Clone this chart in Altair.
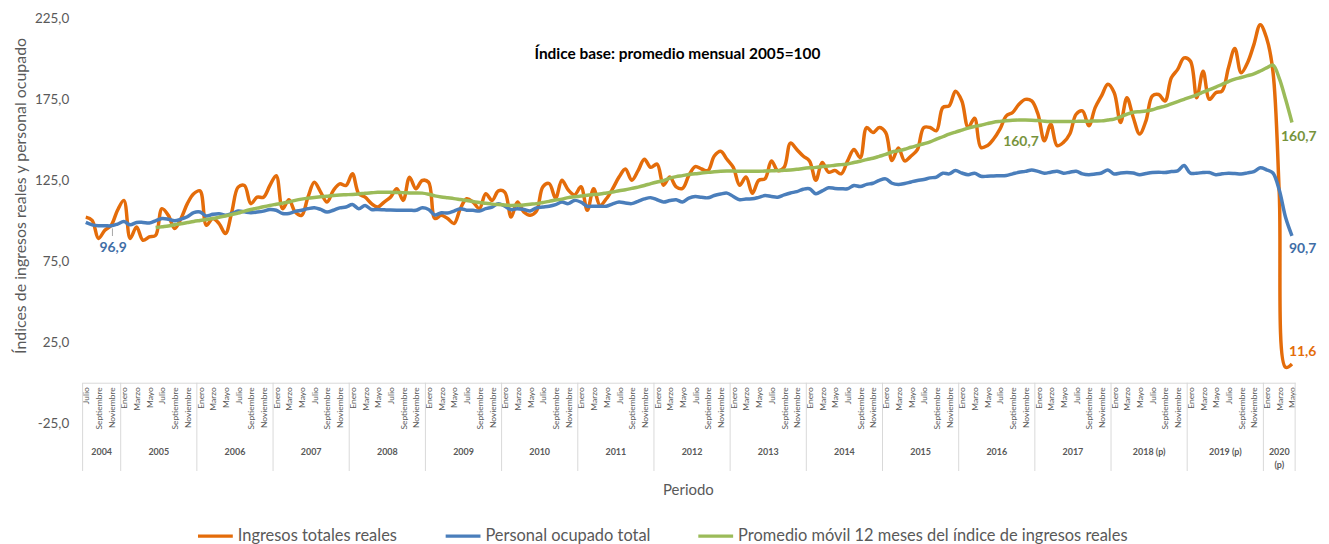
import altair as alt
import pandas as pd

MESES = ["Enero", "Febrero", "Marzo", "Abril", "Mayo", "Junio", "Julio",
         "Agosto", "Septiembre", "Octubre", "Noviembre", "Diciembre"]
ANIOS = ["2004", "2005", "2006", "2007", "2008", "2009", "2010", "2011", "2012",
         "2013", "2014", "2015", "2016", "2017", "2018 (p)", "2019 (p)", "2020\n(p)"]
SERIES = ["Ingresos totales reales", "Personal ocupado total",
          "Promedio móvil 12 meses del índice de ingresos reales"]
COLORES = ["#E46C0A", "#4A7EBB", "#9BBB59"]

# Ingresos totales reales, julio 2004 - mayo 2020
ingresos = [
    102.3, 100.3, 89.1, 94.2, 97.2, 106.5,                                      # 2004
    112.6, 89.1, 96.2, 88.0, 90.0, 91.0, 107.5, 103.4, 95.2, 101.4, 110.6, 116.7,  # 2005
    118.5, 97.2, 101.4, 98.3, 92.1, 105.4, 120.8, 121.8, 110.6, 114.6, 114.6, 121.8,  # 2006
    127.9, 107.5, 113.0, 105.4, 103.4, 114.6, 123.8, 117.7, 111.6, 118.7, 122.8, 121.8,  # 2007
    129.0, 116.7, 114.6, 110.6, 108.5, 111.6, 114.6, 119.8, 112.6, 126.9, 119.8, 124.9,  # 2008
    123.8, 101.4, 103.4, 101.4, 98.3, 107.5, 113.6, 111.6, 107.5, 116.7, 112.6, 118.5,  # 2009
    117.7, 102.3, 111.6, 105.4, 103.4, 106.0, 121.0, 123.0, 114.0, 125.0, 119.0, 116.0,  # 2010
    121.0, 106.5, 119.8, 109.5, 113.6, 119.8, 127.0, 132.0, 125.0, 131.0, 138.0, 133.0,  # 2011
    135.0, 122.0, 127.0, 121.0, 120.0, 128.0, 133.5, 132.0, 131.0, 140.0, 143.0, 138.0,  # 2012
    133.0, 122.0, 127.0, 117.0, 125.0, 126.0, 137.0, 131.0, 133.0, 148.0, 144.0, 140.0,  # 2013
    137.0, 125.0, 136.0, 130.0, 131.0, 129.0, 137.0, 144.0, 139.0, 157.6, 154.5, 157.6,  # 2014
    154.5, 137.2, 145.0, 137.0, 140.0, 144.0, 157.6, 157.6, 155.6, 170.0, 171.0, 180.0,  # 2015
    174.0, 157.6, 163.4, 145.3, 146.4, 150.5, 156.6, 164.8, 166.9, 172.0, 175.0, 174.0,  # 2016
    165.8, 149.4, 159.7, 146.4, 148.4, 153.6, 165.8, 167.9, 158.7, 169.9, 177.1, 184.3,  # 2017
    179.1, 160.7, 176.0, 163.8, 153.6, 161.7, 177.1, 178.0, 174.0, 188.3, 193.5, 200.6,  # 2018
    198.6, 176.0, 192.4, 175.0, 179.1, 180.2, 194.5, 206.4, 191.4, 197.6, 208.8, 221.1,  # 2019
    212.9, 192.4, 116.9, 9.5, 11.6,                                              # 2020
]

# Personal ocupado total
personal = [
    99.0, 97.5, 97.0, 97.0, 96.9, 98.0,
    99.5, 97.5, 99.0, 99.0, 98.6, 100.0, 101.4, 101.0, 100.0, 101.0, 102.5, 105.0,
    105.4, 103.0, 104.0, 104.4, 103.4, 104.5, 106.0, 105.5, 105.0, 105.4, 106.0, 107.0,
    106.5, 104.5, 104.5, 105.8, 106.5, 107.5, 108.1, 107.0, 105.4, 106.5, 108.0, 108.5,
    110.0, 107.5, 109.5, 107.0, 107.0, 106.8, 106.6, 106.5, 106.5, 106.5, 106.5, 108.0,
    107.0, 103.6, 105.0, 104.8, 106.0, 107.5, 106.5, 106.5, 106.0, 107.5, 108.5, 110.6,
    109.0, 106.9, 107.5, 107.0, 106.1, 108.0, 108.5, 109.0, 110.0, 111.6, 110.6, 112.6,
    111.5, 109.0, 109.0, 109.0, 109.0, 110.5, 111.6, 111.0, 110.6, 112.0, 113.5, 114.3,
    113.0, 111.6, 112.5, 113.0, 111.6, 114.0, 115.0, 114.5, 114.2, 115.6, 116.5, 117.1,
    115.0, 113.0, 113.5, 113.6, 114.5, 115.6, 115.0, 114.6, 116.0, 117.2, 118.0, 119.5,
    119.8, 116.7, 118.5, 120.4, 120.0, 119.8, 119.8, 121.8, 121.2, 122.5, 123.2, 125.0,
    125.9, 123.2, 122.4, 123.0, 124.0, 124.9, 125.5, 126.5, 127.0, 129.4, 129.0, 131.0,
    129.5, 128.5, 129.4, 127.5, 127.5, 127.7, 127.8, 128.0, 129.0, 130.0, 130.5, 131.4,
    130.5, 129.4, 130.0, 130.6, 129.4, 130.0, 130.6, 129.0, 128.5, 128.9, 129.5, 131.4,
    128.9, 129.5, 129.8, 129.5, 128.5, 129.2, 129.8, 130.0, 129.8, 130.4, 130.8, 134.1,
    129.4, 129.4, 129.8, 129.8, 128.5, 129.0, 129.4, 129.2, 128.9, 129.6, 130.4, 132.7,
    131.5, 129.5, 119.0, 102.0, 90.7,
]

# Promedio movil 12 meses, junio 2005 - mayo 2020
promedio = [
    95.8, 96.3, 96.8, 97.6, 98.2, 98.9, 99.6,
    100.2, 100.8, 101.4, 102.2, 103.0, 103.9, 104.8, 106.0, 107.0, 107.8, 108.7, 109.5,
    110.2, 110.9, 111.6, 112.6, 113.4, 114.0, 114.4, 114.8, 115.2, 115.6, 115.9, 116.1,
    116.3, 116.6, 117.0, 117.3, 117.6, 117.7, 117.6, 117.5, 117.4, 117.2, 117.2, 117.1,
    116.4, 115.4, 114.7, 114.2, 113.7, 113.1, 112.5, 111.9, 111.3, 110.8, 110.3, 110.0,
    109.8, 109.5, 109.6, 109.8, 110.2, 110.6, 111.3, 112.0, 112.8, 113.4, 114.3, 114.8,
    115.3, 115.8, 116.2, 116.6, 117.2, 117.8, 118.6, 119.2, 120.0, 120.8, 121.8, 123.0,
    124.0, 124.8, 126.3, 127.3, 127.9, 128.6, 129.0, 129.5, 129.9, 130.3, 130.6, 130.7,
    130.7, 130.6, 130.6, 130.6, 130.6, 130.7, 130.9, 131.0, 131.2, 131.4, 131.8, 132.3,
    132.7, 133.0, 133.5, 133.8, 134.3, 134.7, 135.1, 136.0, 136.8, 137.8, 138.6, 139.8,
    141.0, 142.5, 143.2, 144.2, 145.4, 146.5, 147.6, 148.8, 150.4, 151.9, 153.5, 154.8,
    156.0, 157.2, 158.2, 159.0, 160.0, 160.9, 161.4, 161.8, 162.1, 162.2, 162.2, 162.1,
    161.9, 161.5, 161.3, 161.3, 161.3, 161.3, 161.4, 161.5, 161.5, 161.6, 161.7, 162.2,
    162.8, 164.2, 165.8, 167.0, 167.4, 167.8, 168.6, 169.8, 170.8, 172.2, 173.6, 175.0,
    176.4, 177.8, 179.4, 181.0, 182.6, 184.3, 186.0, 187.5, 188.5, 189.6, 190.8, 192.5,
    194.4, 196.1, 188.0, 175.0, 160.7,
]

MES_INICIO = 6   # julio
N = len(ingresos)
INICIO_PROMEDIO = N - len(promedio)

rows = []
for k, v in enumerate(ingresos):
    rows.append({"i": k, "valor": v, "serie": SERIES[0]})
for k, v in enumerate(personal):
    rows.append({"i": k, "valor": v, "serie": SERIES[1]})
for k, v in enumerate(promedio):
    rows.append({"i": k + INICIO_PROMEDIO, "valor": v, "serie": SERIES[2]})
df = pd.DataFrame(rows)

# year boundaries and centers
limites = [-0.5]
k = 0
while k < N:
    m = (MES_INICIO + k) % 12
    fin = min(N, k + (12 - m))
    limites.append(fin - 0.5)
    k = fin
df_lim = pd.DataFrame({"b": limites})
df_anio = pd.DataFrame({"c": [(a + b) / 2 for a, b in zip(limites[:-1], limites[1:])],
                        "anio": ANIOS})

FONT = "Lato"
GRIS = "#595959"
W, H = 1219, 407

x_axis = alt.Axis(
    values=list(range(0, N, 2)),
    labelExpr="%s[(datum.value + %d) %% 12]" % (str(MESES), MES_INICIO),
    labelAngle=270, labelAlign="right", labelBaseline="middle", labelPadding=4,
    labelFontSize=8.5, labelColor=GRIS, labelFont=FONT, labelOverlap=False,
    labelBound=False, labelFlush=False,
    ticks=False, grid=False, domain=True, domainColor="#d9d9d9", domainWidth=1,
    offset=-H * 25 / 250, title=None,
)
x_scale = alt.Scale(domain=[-0.5, N - 0.5], nice=False, zero=False)

y_axis = alt.Axis(
    values=[-25, 25, 75, 125, 175, 225],
    labelExpr="datum.value + ',0'",
    domain=False, ticks=False, grid=False, labelPadding=14,
    labelFontSize=13.5, labelColor=GRIS, labelFont=FONT,
    title="Índices de ingresos reales y personal ocupado",
    titleFontSize=16, titleFontWeight="normal", titleColor=GRIS, titleFont=FONT,
    titleX=-62, titleY=178, titleAngle=270, titleAlign="center", titleBaseline="middle",
)
y_scale = alt.Scale(domain=[-25, 225], nice=False, zero=False)

color = alt.Color(
    "serie:N",
    scale=alt.Scale(domain=SERIES, range=COLORES),
    legend=alt.Legend(
        orient="none", legendX=114, legendY=501, direction="horizontal", title=None,
        symbolType="stroke", symbolSize=1225, symbolStrokeWidth=3.5,
        labelFontSize=16.5, labelColor=GRIS, labelFont=FONT, labelOffset=3,
        labelLimit=600, columnPadding=41, padding=0,
    ),
)

def linea(serie):
    return alt.Chart(df[df["serie"] == serie]).mark_line(
        strokeWidth=3.5, interpolate="catmull-rom"
    ).encode(
        x=alt.X("i:Q", scale=x_scale, axis=x_axis),
        y=alt.Y("valor:Q", scale=y_scale, axis=y_axis),
        color=color,
    )

def etiqueta(i, valor, texto, col, align, dx, dy):
    d = pd.DataFrame({"i": [i], "valor": [valor], "t": [texto]})
    return alt.Chart(d).mark_text(
        font=FONT, fontSize=14, fontWeight="bold", color=col,
        align=align, baseline="middle", dx=dx, dy=dy,
    ).encode(
        x=alt.X("i:Q", scale=x_scale, axis=x_axis),
        y=alt.Y("valor:Q", scale=y_scale, axis=y_axis),
        text="t:N",
    )

separadores = alt.Chart(df_lim).mark_rule(color="#d9d9d9", strokeWidth=1).encode(
    x=alt.X("b:Q", scale=x_scale, axis=x_axis),
    y=alt.YDatum(0, scale=y_scale, axis=y_axis),
    y2=alt.Y2Datum(-54.5),
)
anios_txt = alt.Chart(df_anio).mark_text(
    font=FONT, fontSize=9, fontWeight="bold", color=GRIS,
    align="center", baseline="top", lineBreak="\n", lineHeight=13,
).encode(
    x=alt.X("c:Q", scale=x_scale, axis=x_axis),
    y=alt.YDatum(-40.2, scale=y_scale, axis=y_axis),
    text="anio:N",
)
guia = alt.Chart(pd.DataFrame({"a": [0]})).mark_rule(color="#a6a6a6", strokeWidth=1).encode(
    x=alt.XDatum(4.2, scale=x_scale, axis=x_axis),
    y=alt.YDatum(95.3, scale=y_scale, axis=y_axis),
    y2=alt.Y2Datum(90.6),
)

subtitulo = alt.Chart(pd.DataFrame({"t": ["Índice base: promedio mensual 2005=100"]})).mark_text(
    font=FONT, fontSize=15.5, fontWeight="bold", color="#000000", align="center", baseline="middle"
).encode(x=alt.value(598), y=alt.value(36), text="t:N")

periodo = alt.Chart(pd.DataFrame({"t": ["Periodo"]})).mark_text(
    font=FONT, fontSize=15, color=GRIS, align="center", baseline="middle"
).encode(x=alt.value(609), y=alt.value(474), text="t:N")

ult = N - 1
chart = alt.layer(
    separadores, anios_txt,
    linea(SERIES[0]), linea(SERIES[1]), linea(SERIES[2]),
    guia,
    etiqueta(4, personal[4], "96,9", "#3F6EA6", "center", 2, 22),
    etiqueta(ult, personal[ult], "90,7", "#3F6EA6", "left", -3, 13),
    etiqueta(ult, promedio[-1], "160,7", "#77933C", "left", -11, 15),
    etiqueta(ult, ingresos[ult], "11,6", "#E46C0A", "left", -3, -12),
    etiqueta(147, promedio[147 - INICIO_PROMEDIO], "160,7", "#77933C", "center", 2, 22),
    subtitulo, periodo,
).properties(
    width=W, height=H,
    padding={"left": 75, "top": 9, "right": 26, "bottom": 122},
    autosize=alt.AutoSizeParams(type="none"),
    background="white",
).configure_view(strokeWidth=0)

chart.save("out.html", embed_options={"renderer": "svg", "actions": False})
